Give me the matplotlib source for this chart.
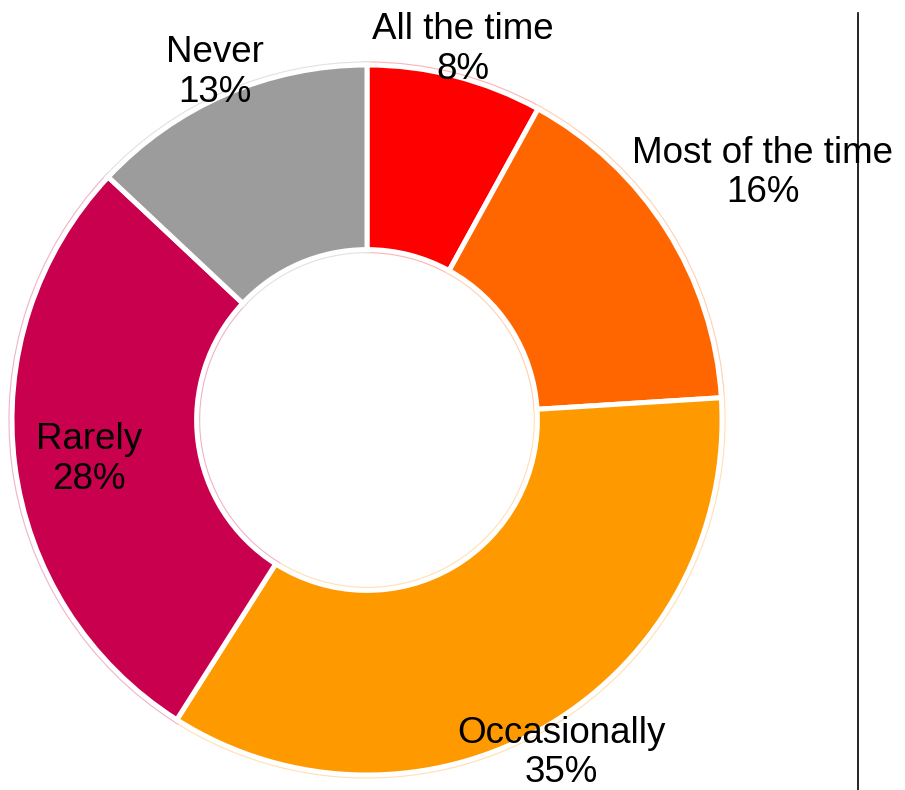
import numpy as np
import matplotlib
matplotlib.use("Agg")
from matplotlib import pyplot as plt
from matplotlib.colors import to_rgb
from matplotlib.lines import Line2D

labels = ['All the time', 'Most of the time', 'Occasionally', 'Rarely', 'Never']
shares = [8, 16, 35, 28, 13]
colors = ['#FF0000', '#FF6600', '#FF9900', '#C8004E', '#9C9C9C']
label_r = [1.09, 1.32, 1.075, 0.79, 1.08]

plt.rcParams['font.family'] = ['Liberation Sans', 'DejaVu Sans']

fig = plt.figure(figsize=(9.05, 7.9), dpi=100)
ax = fig.add_axes([0, 0, 1, 1])
ax.axis('off')

# light tinted outline under the white gap lines
tints = [tuple(0.7 + 0.3 * np.array(to_rgb(c))) for c in colors]
wedges, _ = ax.pie(shares, colors=colors, startangle=90, counterclock=False,
                   radius=1.0, wedgeprops=dict(width=0.52, linewidth=5.2))
for w, t in zip(wedges, tints):
    w.set_edgecolor(t)
ax.pie(shares, colors=colors, startangle=90, counterclock=False,
       radius=1.0, wedgeprops=dict(width=0.52, linewidth=3.6, edgecolor='white'))
ax.set_xlim(-367 / 355, (905 - 367) / 355)
ax.set_ylim(-370 / 355, 420 / 355)
ax.set_aspect('auto')

cum = np.cumsum([0] + shares[:-1])
for lab, s, c0, r in zip(labels, shares, cum, label_r):
    ang = np.deg2rad(90 - (c0 + s / 2) * 3.6)
    ax.text(r * np.cos(ang), r * np.sin(ang) - 0.012, f'{lab}\n{s}%', ha='center', va='center',
            fontsize=26.5, linespacing=1.16, color='black')

fig.add_artist(Line2D([857.5 / 905, 857.5 / 905], [0, 1 - 13 / 790],
                      transform=fig.transFigure, color='black', linewidth=1.2))

fig.savefig('out.png', dpi=100)
